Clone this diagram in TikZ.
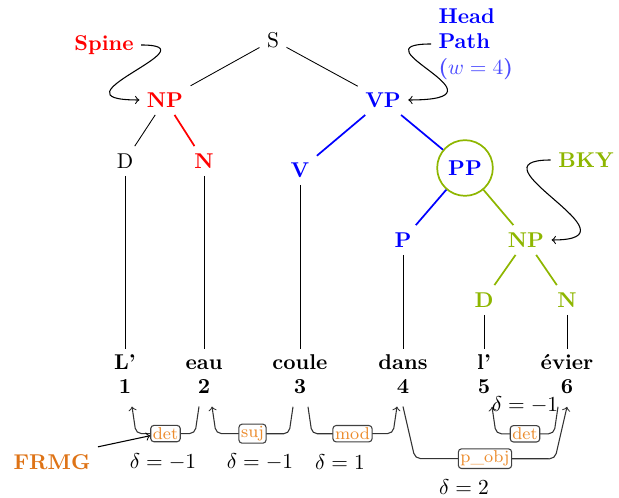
\documentclass[tikz,border=0pt]{standalone}
\usetikzlibrary{calc}
\definecolor{bkygreen}{RGB}{142,182,0}
\definecolor{frmgorange}{RGB}{222,115,22}
\definecolor{deporange}{RGB}{236,140,45}
\newcommand{\wrd}[4]{
	\node[word] (w#1) at (#2,370) {#3};
	\node[num] (n#1) at (#2,394) {#4};
	}
\newcommand{\deparc}[8]{
	\draw[deparc] ($(#1.south)+(#3,5)$) -- ++(#5,#6)
		-- node[deplabel] (#7) {#8} ($(#2.south)+(#4,5)+({-1*(#5)},#6)$)
		-- ($(#2.south)+(#4,5)$);
	}

\begin{document}
\begin{tikzpicture}[
      x=0.467pt, y=-0.467pt, %one unit is one pixel of the sketch
      cat/.style={font=\bfseries},
      word/.style={font=\bfseries, anchor=base, text height=1.5ex, text depth=.25ex},
      num/.style={font=\bfseries, anchor=base},
      link/.style={thin},
      spine/.style={thick, red},
      head/.style={thick, blue},
      bky/.style={thick, bkygreen},
      pointer/.style={->, >=to, line width=0.5pt},
      deparc/.style={->, >=to, draw=black!80, line width=0.5pt, rounded corners=2.5pt},
      deplabel/.style={draw=black!75, fill=white, rounded corners=1.5pt, inner sep=1pt,
                       font=\footnotesize, text=deporange}
    ]
    \useasboundingbox (0,0) rectangle (619,498);
    % Draw the constituent tree
    \node (S) at (273,40) {S};
    \node[cat, red] (NPa) at (165,100) {NP};
    \node[cat, blue] (VP) at (383,100) {VP};
    \node (Da) at (125,161) {D};
    \node[cat, red] (Na) at (204,161) {N};
    \node[cat, blue] (V) at (300,170) {V};
    \node[cat, text=blue, draw=bkygreen, thick, circle, minimum size=26pt, inner sep=0pt] (PP) at (465,168) {PP};
    \node[cat, blue] (P) at (403,240) {P};
    \node[cat, bkygreen] (NPb) at (526,240) {NP};
    \node[cat, bkygreen] (Db) at (484,300) {D};
    \node[cat, bkygreen] (Nb) at (567,300) {N};
    \draw[link] (S) -- (NPa);
    \draw[link] (S) -- (VP);
    \draw[link] (NPa) -- (Da);
    \draw[spine] (NPa) -- (Na);
    \draw[head] (VP) -- (V);
    \draw[head] (VP) -- (PP);
    \draw[head] (PP) -- (P);
    \draw[bky] (PP) -- (NPb);
    \draw[bky] (NPb) -- (Db);
    \draw[bky] (NPb) -- (Nb);
    % Draw the sentence
    \wrd{1}{125}{L'}{1};
    \wrd{2}{204}{eau}{2};
    \wrd{3}{300}{coule}{3};
    \wrd{4}{403}{dans}{4};
    \wrd{5}{484}{l'}{5};
    \wrd{6}{567}{évier}{6};
    \draw[link] (Da) -- (w1);
    \draw[link] (Na) -- (w2);
    \draw[link] (V) -- (w3);
    \draw[link] (P) -- (w4);
    \draw[link] (Db) -- (w5);
    \draw[link] (Nb) -- (w6);
    % Draw the dependencies
    \deparc{n2}{n1}{-5}{7}{-4}{27}{detA}{det};
    \deparc{n3}{n2}{-7}{8}{-4}{27}{suj}{suj};
    \deparc{n3}{n4}{8}{-6}{4}{27}{mod}{mod};
    \deparc{n4}{n6}{0}{0}{12}{52}{pobj}{p\_obj};
    \deparc{n6}{n5}{-9}{8}{-4}{27}{detB}{det};
    \node (dA) at (163,462) {$\delta = -1$};
    \node (dB) at (260,462) {$\delta = -1$};
    \node (dC) at (340,462) {$\delta = 1$};
    \node (dD) at (464,487) {$\delta = 2$};
    \node (dE) at (525,405) {$\delta = -1$};
    % Name the parsers
    \node[cat, red] (spine) at (104,45) {Spine};
    \node[cat, blue, align=left, anchor=west] (hpath) at (431,44)
      {Head\\Path\\{\color{blue!70}($w = 4$)}};
    \node[cat, bkygreen] (bkyname) at (586,160) {BKY};
    \node[cat, frmgorange] (frmg) at (52,462) {FRMG};
    \draw[pointer] (spine.east) .. controls +(75,0) and +(-95,0) .. (NPa.west);
    \draw[pointer] (hpath.west) .. controls +(-80,0) and +(110,0) .. (VP.east);
    \draw[pointer] (bkyname.west) .. controls +(-86,0) and +(95,0) .. (NPb.east);
    \draw[pointer] (frmg.north east) -- ([yshift=-1pt]detA.west);
\end{tikzpicture}
\end{document}
